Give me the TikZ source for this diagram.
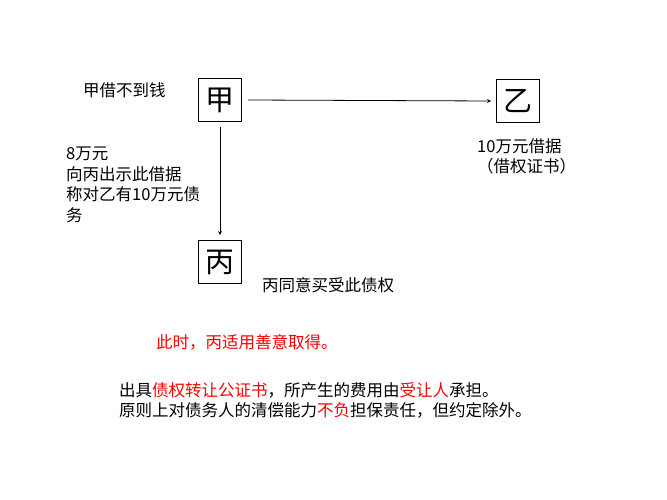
\documentclass[tikz,border=0pt]{standalone}
\usepackage{fontspec}
\setmainfont{Noto Sans CJK SC}
\begin{document}
\begin{tikzpicture}[x=1pt,y=-1pt,
  bx/.style={draw,line width=0.8pt,minimum width=43pt,minimum height=43pt,inner sep=0pt,font=\fontsize{29}{30}\selectfont},
  lbl/.style={font=\fontsize{16.5}{20.5}\selectfont,inner sep=0pt,align=left},
  arr/.style={->,>=stealth,line width=0.8pt}]
\useasboundingbox (0,0) rectangle (667,500);
\node[bx] (a) at (220,100) {甲};
\node[bx] (b) at (518,101) {乙};
\node[bx] (c) at (220,262) {丙};
\draw[arr] ([xshift=6pt]a.east) -- ([xshift=-5pt]b.west);
\draw[arr] ([yshift=-5pt]a.south) -- ([yshift=5pt]c.north);
\node[lbl,anchor=west] (t1) at (83,90) {甲借不到钱};
\node[lbl,anchor=north west] (t2) at (66,147) {8万元\\向丙出示此借据\\称对乙有10万元债\\务};
\node[lbl,anchor=north west] (t3) at (477,138) {10万元借据\\（借权证书）};
\node[lbl,anchor=west] (t4) at (262,285) {丙同意买受此债权};
\node[lbl,anchor=west,text=red] (t5) at (156,342) {此时，丙适用善意取得。};
\node[lbl,anchor=north west] (t6) at (119,382) {出具\textcolor{red}{债权转让公证书}，所产生的费用由\textcolor{red}{受让人}承担。\\原则上对债务人的清偿能力\textcolor{red}{不负}担保责任，但约定除外。};
\end{tikzpicture}
\end{document}
